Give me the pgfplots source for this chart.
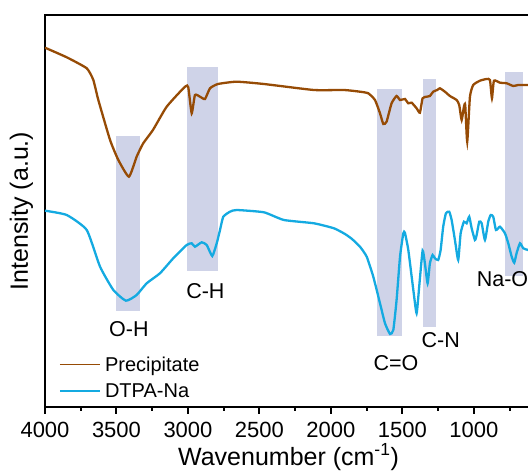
\documentclass[border=0pt]{standalone}
\usepackage{fontspec}
\setmainfont{Liberation Sans}
\usepackage{pgfplots}
\pgfplotsset{compat=1.18}
\definecolor{precip}{RGB}{150,75,5}
\definecolor{dtpa}{RGB}{20,170,225}
\definecolor{band}{RGB}{207,211,232}
\newcommand{\annfont}{\fontsize{21.5}{24}\selectfont}
\begin{document}
\begin{tikzpicture}
\begin{axis}[
  scale only axis, width=490pt, height=392pt,
  x dir=reverse, xmin=573, xmax=4000, ymin=0, ymax=392,
  axis line style={line width=2.6pt},
  xtick={1000,1500,...,4000},
  minor xtick={750,1250,...,3750},
  ytick=\empty,
  xtick pos=lower, tick align=outside,
  major tick length=7pt, minor tick length=4pt,
  every tick/.style={black, line width=2pt},
  /pgf/number format/1000 sep={},
  /pgf/number format/assume math mode=true,
  xticklabel style={font=\fontsize{22}{24}\selectfont, anchor=base, yshift=-24pt},
  xlabel={Wavenumber (cm\textsuperscript{-1})},
  ylabel={Intensity (a.u.)},
  label style={font=\fontsize{25}{28}\selectfont},
  xlabel style={at={(axis description cs:0.497,-0.1480)}, anchor=base},
  ylabel style={at={(axis description cs:-0.0347,0.5)}, anchor=base},
  legend style={draw=none, fill=none, font=\fontsize{20}{22}\selectfont,
    at={(axis description cs:0,0)}, anchor=south west, xshift=11pt, yshift=4pt,
    row sep=7pt},
  legend cell align=left,
  legend image code/.code={\draw[#1, line width=1.4pt] (0pt,0pt) -- (40pt,0pt); \path (42pt,0pt);},
]
% assignment bands
\addplot[draw=none, fill=band, forget plot] coordinates {(3503,96) (3336,96) (3336,271) (3503,271)};
\addplot[draw=none, fill=band, forget plot] coordinates {(3005,136) (2792,136) (2792,340) (3005,340)};
\addplot[draw=none, fill=band, forget plot] coordinates {(1676,70.5) (1506,70.5) (1506,318) (1676,318)};
\addplot[draw=none, fill=band, forget plot] coordinates {(1354,80.3) (1266,80.3) (1266,328) (1354,328)};
\addplot[draw=none, fill=band, forget plot] coordinates {(783,131.3) (659,131.3) (659,335) (783,335)};

% precipitate spectrum
\addplot[precip, line width=2.3pt, smooth, tension=0.3] coordinates {
(4000,359.3) (3848,349.7) (3708,338.7) (3662,327) (3627,307) (3545,267) (3487,247)
(3413,230.3) (3359,250.3) (3313,263.7) (3245,277) (3149,300.3) (3021,320.3) (2998,319.7)
(2974,293.7) (2951,312) (2916,310.3) (2881,308) (2846,318.7) (2790,323) (2660,325.3)
(2469,323) (2119,317) (1909,317) (1797,315.3) (1739,313.7) (1692,307) (1657,293.7)
(1634,283) (1611,285.3) (1576,303.7) (1541,311) (1517,307) (1483,308) (1459,303.7)
(1436,304.3) (1401,298.7) (1378,294.3) (1359,308.7) (1331,310.3) (1308,311) (1285,315.3)
(1257,317) (1238,318.7) (1203,315.3) (1168,311) (1121,307) (1103,302) (1086,287)
(1070,300.3) (1061,302) (1047,265.3) (1028,310.3) (1005,322) (958,326.3) (911,328)
(888,327) (874,308.7) (860,326.3) (818,324.3) (771,323.7) (725,321) (690,322) (622,322) (600,322)
};
\addlegendentry{Precipitate}

% DTPA-Na spectrum
\addplot[dtpa, line width=2.3pt, smooth, tension=0.3] coordinates {
(4000,196.3) (3848,192) (3708,177) (3615,140.3) (3522,117) (3434,106.3) (3359,112)
(3289,123.7) (3196,133.7) (3103,148.7) (3009,162) (2974,163.7) (2951,160.3) (2904,164.7)
(2869,162) (2830,151) (2799,163.7) (2776,177) (2753,190.3) (2706,195.3) (2660,197)
(2469,194.7) (2329,187) (2119,183.7) (1979,178.7) (1902,173) (1853,168) (1797,160.3)
(1750,150.3) (1704,130.3) (1657,103.7) (1622,83.7) (1587,73) (1564,77) (1541,107)
(1517,150.3) (1494,173.7) (1483,174.3) (1459,157) (1424,117) (1401,93.7) (1383,120.3)
(1359,156.3) (1343,143.7) (1324,123.7) (1308,143.7) (1289,152) (1273,148.7) (1250,147)
(1233,157) (1215,180.3) (1196,193.7) (1173,195.3) (1156,187) (1133,167) (1110,147)
(1093,173.7) (1070,185.3) (1051,183.7) (1033,190.3) (1016,178.7) (993,167) (981,172)
(963,185.3) (946,183.7) (923,167) (900,185.3) (883,192) (865,190.3) (846,177) (818,180.3)
(783,173.7) (760,163.7) (736,150.3) (718,144.3) (702,153.7) (678,163.7) (655,158.7) (622,157) (600,156)
};
\addlegendentry{DTPA-Na}

% band assignments
\node[font=\annfont] at (axis cs:3413,77.7) {O-H};
\node[font=\annfont] at (axis cs:2878,116.2) {C-H};
\node[font=\annfont] at (axis cs:1545,43.7) {C=O};
\node[font=\annfont] at (axis cs:1232,66.5) {C-N};
\node[font=\annfont, anchor=west, inner xsep=0pt] at (axis cs:981,127.8) {Na-O};
\end{axis}
\pgfresetboundingbox
\path[use as bounding box] (-45pt,-64pt) rectangle (483pt,407pt);
\end{tikzpicture}
\end{document}
